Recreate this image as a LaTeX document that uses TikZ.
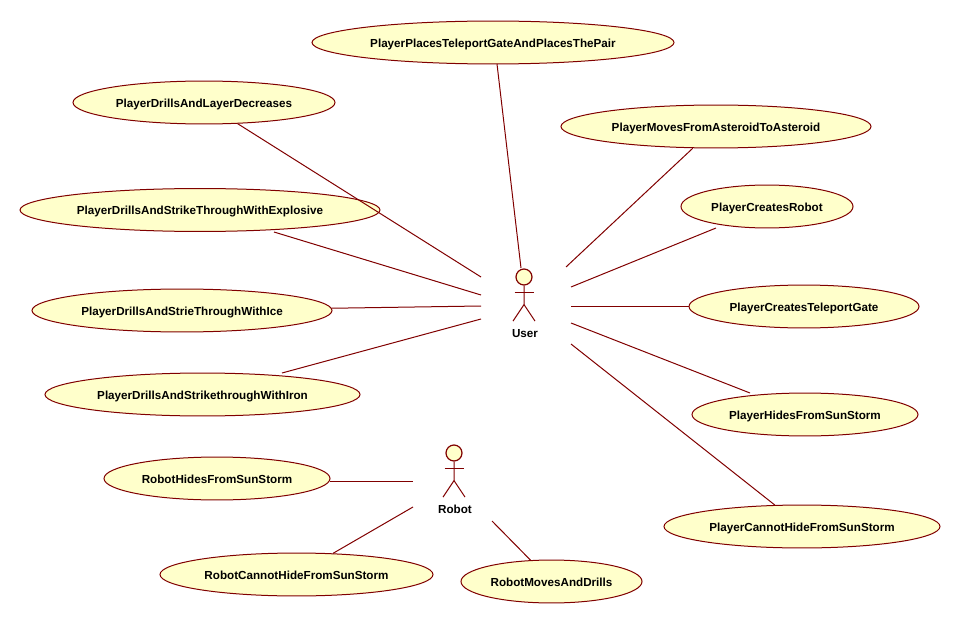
\documentclass[tikz,border=0pt]{standalone}
\usepackage{fontspec}
\setmainfont{Liberation Sans}
\usetikzlibrary{shapes.geometric}
\definecolor{umlline}{RGB}{128,0,0}
\definecolor{umlfill}{RGB}{255,255,203}
\tikzset{
	usecase/.style={draw=umlline, fill=umlfill, ellipse, inner sep=0pt, line width=0.75pt, minimum height=32.2pt, text height=6.8pt, text depth=0pt, font=\fontsize{8.75}{10}\bfseries},
	head/.style={draw=umlline, fill=umlfill, circle, inner sep=0pt, line width=0.9pt, minimum size=12pt},
	actorname/.style={text height=6pt, text depth=0pt, font=\fontsize{8.75}{10}\bfseries},
	assoc/.style={draw=umlline, line width=0.75pt},
}
\begin{document}
\begin{tikzpicture}[x=0.75pt, y=-0.75pt]
	\useasboundingbox (0,0) rectangle (960,624);
	
	\node[usecase, minimum width=271.5pt](UC1) at (493,42.5){PlayerPlacesTeleportGateAndPlacesThePair};
	\node[usecase, minimum width=196.5pt](UC2) at (204,102.5){PlayerDrillsAndLayerDecreases};
	\node[usecase, minimum width=232.5pt](UC3) at (716,126.5){PlayerMovesFromAsteroidToAsteroid};
	\node[usecase, minimum width=270pt](UC4) at (200,210){PlayerDrillsAndStrikeThroughWithExplosive};
	\node[usecase, minimum width=129pt](UC5) at (767,206.5){PlayerCreatesRobot};
	\node[usecase, minimum width=225pt](UC6) at (182,310.5){PlayerDrillsAndStrieThroughWithIce};
	\node[usecase, minimum width=172.5pt](UC7) at (804,306.5){PlayerCreatesTeleportGate};
	\node[usecase, minimum width=236.25pt](UC8) at (202.5,394.5){PlayerDrillsAndStrikethroughWithIron};
	\node[usecase, minimum width=169.5pt](UC9) at (805,414.5){PlayerHidesFromSunStorm};
	\node[usecase, minimum width=207pt](UC10) at (802,526.5){PlayerCannotHideFromSunStorm};
	\node[usecase, minimum width=169.5pt](UC11) at (217,478.5){RobotHidesFromSunStorm};
	\node[usecase, minimum width=204.75pt](UC12) at (296.5,574.5){RobotCannotHideFromSunStorm};
	\node[usecase, minimum width=135.75pt](UC13) at (551.5,581.5){RobotMovesAndDrills};
	
	\node[head](USER) at (524,277){};
	\node[actorname, below of=USER, node distance=42pt, xshift=0.75pt](USERNAME){User};
	\draw[assoc] (USER.south) -- ++(0,19) coordinate(USERHIP) -- ++(-11,16.5);
	\draw[assoc] (USERHIP) -- ++(11,16.5);
	\draw[assoc] (USER.south) ++(-9.5,7) -- ++(19,0);
	
	\node[head](ROBOT) at (454,453){};
	\node[actorname, below of=ROBOT, node distance=42pt, xshift=0.75pt](ROBOTNAME){Robot};
	\draw[assoc] (ROBOT.south) -- ++(0,19) coordinate(ROBOTHIP) -- ++(-11,16.5);
	\draw[assoc] (ROBOTHIP) -- ++(11,16.5);
	\draw[assoc] (ROBOT.south) ++(-9.5,7) -- ++(19,0);
	
	\coordinate(E1) at (521,268);
	\coordinate(E2) at (481,277);
	\coordinate(E3) at (566,267);
	\coordinate(E4) at (481,295);
	\coordinate(E5) at (571,287);
	\coordinate(E6) at (481,306);
	\coordinate(E7) at (571,306.5);
	\coordinate(E8) at (481,319);
	\coordinate(E9) at (571,323);
	\coordinate(E10) at (571,344);
	\coordinate(E11) at (413,481);
	\coordinate(E12) at (413,507);
	\coordinate(E13) at (492,521);
	
	\coordinate(S1) at (497,64);
	\coordinate(S4) at (274,232);
	\coordinate(S5) at (716,228);
	\coordinate(S8) at (282,373);
	\coordinate(S9) at (750,393);
	\coordinate(S11) at (330,481);
	
	\draw[assoc] (S1) -- (E1);
	\draw[assoc] (UC2) -- (E2);
	\draw[assoc] (UC3) -- (E3);
	\draw[assoc] (S4) -- (E4);
	\draw[assoc] (S5) -- (E5);
	\draw[assoc] (UC6) -- (E6);
	\draw[assoc] (UC7) -- (E7);
	\draw[assoc] (S8) -- (E8);
	\draw[assoc] (S9) -- (E9);
	\draw[assoc] (UC10) -- (E10);
	\draw[assoc] (S11) -- (E11);
	\draw[assoc] (UC12) -- (E12);
	\draw[assoc] (UC13) -- (E13);
\end{tikzpicture}
\end{document}
